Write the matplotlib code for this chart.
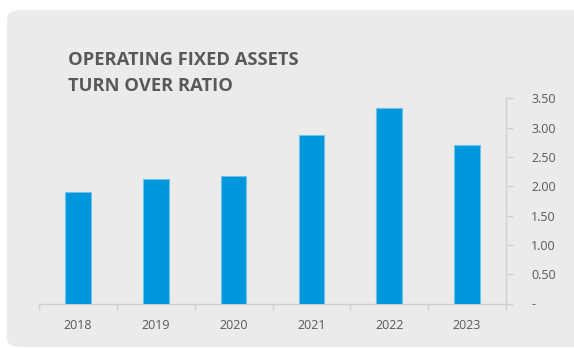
import matplotlib
matplotlib.use("Agg")
import matplotlib.pyplot as plt
from matplotlib.patches import FancyBboxPatch

years = ["2018", "2019", "2020", "2021", "2022", "2023"]
ratios = [1.90, 2.12, 2.17, 2.87, 3.34, 2.71]
yticks = [0, 0.5, 1.0, 1.5, 2.0, 2.5, 3.0, 3.5]
ytick_labels = ["-", "0.50", "1.00", "1.50", "2.00", "2.50", "3.00", "3.50"]
title = "OPERATING FIXED ASSETS\nTURN OVER RATIO"

W, H = 574, 348
plt.rcParams["font.family"] = ["Open Sans", "DejaVu Sans"]

fig = plt.figure(figsize=(W / 100, H / 100), dpi=100, facecolor="white")

# rounded grey card behind the chart
card = FancyBboxPatch((7 / W, 1 - 347 / H), (W + 20) / W, 337 / H,
                      boxstyle="round,pad=0,rounding_size=0.025",
                      transform=fig.transFigure, facecolor="#EBEBEB",
                      edgecolor="none", zorder=-5)
fig.patches.append(card)

left, right = 39 / W, 506 / W
bottom, top = 1 - 303.5 / H, 1 - 98.3 / H
ax = fig.add_axes([left, bottom, right - left, top - bottom])
ax.set_facecolor("none")
ax.set_zorder(2)

x = list(range(len(years)))
ax.bar(x, ratios, width=0.33, color="#0096DB", edgecolor="#6CC3EC",
       linewidth=0.8, zorder=3)

ax.set_xlim(-0.5, len(years) - 0.5)
ax.set_ylim(0, 3.5)

axis_grey = "#D0D0D0"
text_grey = "#595959"

for s in ["top", "left"]:
    ax.spines[s].set_visible(False)
ax.spines["bottom"].set_color(axis_grey)
ax.spines["right"].set_color(axis_grey)
ax.spines["bottom"].set_linewidth(1.0)
ax.spines["right"].set_linewidth(1.0)

# category ticks sit on the boundaries between years
ax.set_xticks([i - 0.5 for i in range(len(years) + 1)], minor=False)
ax.set_xticklabels([])
ax.set_xticks(x, minor=True)
ax.set_xticklabels(years, minor=True)
ax.tick_params(axis="x", which="major", length=4, color=axis_grey, width=1.0)
ax.tick_params(axis="x", which="minor", length=0, pad=11,
               labelsize=9, labelcolor=text_grey)

ax.yaxis.tick_right()
ax.set_yticks(yticks)
ax.set_yticklabels(ytick_labels)
ax.tick_params(axis="y", length=5, color=axis_grey, width=1.0, pad=13,
               labelsize=9, labelcolor=text_grey)

fig.text(68 / W, 1 - 51 / H, title, ha="left", va="top", fontsize=13.2,
         fontweight="bold", color=text_grey, linespacing=1.55)

fig.savefig("out.png", dpi=100, facecolor="white")
